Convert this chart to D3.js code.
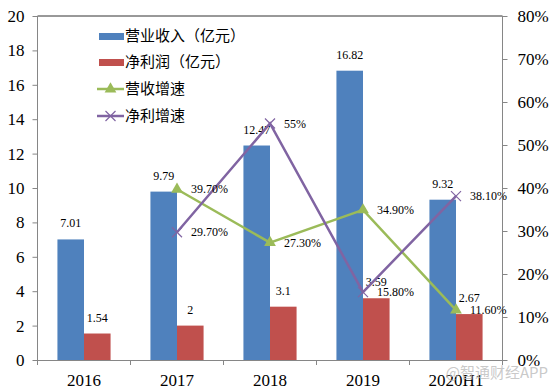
<!DOCTYPE html>
<html><head><meta charset="utf-8">
<script src="https://cdn.jsdelivr.net/npm/d3@7"></script>
<style>body{margin:0;background:#fff}svg{display:block}
.sf{font-family:"Liberation Serif","Times New Roman","DejaVu Serif",serif}
</style>
</head><body>
<script>
const categories = ["2016","2017","2018","2019","2020H1"];
const revenue = [7.01, 9.79, 12.47, 16.82, 9.32];
const profit = [1.54, 2, 3.1, 3.59, 2.67];
const revGrowth = [null, 39.7, 27.3, 34.9, 11.6];
const profGrowth = [null, 29.7, 55, 15.8, 38.1];
const revLabels = ["7.01","9.79","12.47","16.82","9.32"];
const profLabels = ["1.54","2","3.1","3.59","2.67"];
const revGrowthLabels = [null,"39.70%","27.30%","34.90%","11.60%"];
const profGrowthLabels = [null,"29.70%","55%","15.80%","38.10%"];
const leftTicks = [0,2,4,6,8,10,12,14,16,18,20];
const rightTicks = [0,10,20,30,40,50,60,70,80];
const legendNames = ["营业收入（亿元）","净利润（亿元）","营收增速","净利增速"];

const W=554,H=389;
const L=37.5,R=502.5,T=16,B=360;
const C={blue:"#4F81BD",red:"#C0504D",green:"#9BBB59",purple:"#8064A2",axis:"#868686"};

const svg=d3.select("body").append("svg").attr("width",W).attr("height",H);
const x=d3.scaleBand().domain(categories).range([L,R]);
const xs=d3.scaleBand().domain(["rev","prof"]).range([0,x.bandwidth()]).paddingOuter(0.75).paddingInner(0);
const y=d3.scaleLinear().domain([0,20]).range([B,T]);
const y2=d3.scaleLinear().domain([0,80]).range([B,T]);

svg.append("line").attr("x1",L).attr("x2",R).attr("y1",T).attr("y2",T).attr("stroke","#333").attr("stroke-width",1);

const gl=svg.append("g").attr("transform",`translate(${L},0)`)
  .call(d3.axisLeft(y).tickValues(leftTicks).tickSize(5).tickPadding(8));
const gr=svg.append("g").attr("transform",`translate(${R},0)`)
  .call(d3.axisRight(y2).tickValues(rightTicks).tickSize(5).tickPadding(10).tickFormat(d=>d+"%"));
const gb=svg.append("g").attr("transform",`translate(0,${B})`)
  .call(d3.axisBottom(x).tickSize(0).tickPadding(14));
[gl,gr,gb].forEach(g=>{
  g.attr("font-family",null).attr("font-size",null);
  g.selectAll("path,line").attr("stroke",C.axis);
  g.selectAll("text").attr("class","sf").style("font-size","17px").attr("fill","#000");
});
gr.select("path.domain").attr("d",`M0,${T}V${B}`);
gl.select("path.domain").attr("d",`M0,${T}V${B}`);
gb.selectAll(".bt").data(d3.range(categories.length+1)).enter().append("line")
  .attr("x1",i=>L+i*x.step()).attr("x2",i=>L+i*x.step()).attr("y1",0).attr("y2",5).attr("stroke",C.axis);

const g=svg.append("g");
categories.forEach((c,i)=>{
  const x0=x(c);
  g.append("rect").attr("x",x0+xs("rev")).attr("width",xs.bandwidth()).attr("y",y(revenue[i])).attr("height",B-y(revenue[i])).attr("fill",C.blue);
  g.append("rect").attr("x",x0+xs("prof")).attr("width",xs.bandwidth()).attr("y",y(profit[i])).attr("height",B-y(profit[i])).attr("fill",C.red);
  g.append("text").attr("class","sf").attr("x",x0+xs("rev")+xs.bandwidth()/2).attr("y",y(revenue[i])-12).attr("text-anchor","middle")
    .style("font-size","12px").text(revLabels[i]);
  g.append("text").attr("class","sf").attr("x",x0+xs("prof")+xs.bandwidth()/2).attr("y",y(profit[i])-12).attr("text-anchor","middle")
    .style("font-size","12px").text(profLabels[i]);
});

const cx=c=>x(c)+x.bandwidth()/2;
function drawLine(vals,color){
  const pts=categories.map((c,i)=>[c,vals[i]]).filter(d=>d[1]!=null);
  svg.append("path").attr("d",d3.line().x(d=>cx(d[0])).y(d=>y2(d[1]))(pts))
    .attr("fill","none").attr("stroke",color).attr("stroke-width",2.5);
  return pts;
}
const gp=drawLine(revGrowth,C.green);
svg.selectAll(".tri").data(gp).enter().append("path")
  .attr("transform",d=>`translate(${cx(d[0])},${y2(d[1])})`)
  .attr("d",d3.symbol(d3.symbolTriangle,60)).attr("fill",C.green);
const pp=drawLine(profGrowth,C.purple);
svg.selectAll(".xm").data(pp).enter().append("path")
  .attr("transform",d=>`translate(${cx(d[0])},${y2(d[1])})`)
  .attr("d","M-5,-5L5,5M-5,5L5,-5").attr("stroke",C.purple).attr("stroke-width",1.2).attr("fill","none");

categories.forEach((c,i)=>{
  if(revGrowthLabels[i]) svg.append("text").attr("class","sf").attr("x",cx(c)+14).attr("y",y2(revGrowth[i])).attr("dy","0.35em")
    .style("font-size","12px").text(revGrowthLabels[i]);
  if(profGrowthLabels[i]) svg.append("text").attr("class","sf").attr("x",cx(c)+14).attr("y",y2(profGrowth[i])).attr("dy","0.35em")
    .style("font-size","12px").text(profGrowthLabels[i]);
});

const lg=svg.append("g");
const ly=[36,62,89,116];
legendNames.forEach((n,i)=>{
  const yy=ly[i];
  if(i<2){
    lg.append("rect").attr("x",99).attr("y",yy-3).attr("width",25).attr("height",7).attr("fill",i==0?C.blue:C.red);
  } else {
    const col=i==2?C.green:C.purple;
    lg.append("line").attr("x1",97).attr("x2",124).attr("y1",yy).attr("y2",yy).attr("stroke",col).attr("stroke-width",2.5);
    if(i==2) lg.append("path").attr("transform",`translate(110.5,${yy})`).attr("d",d3.symbol(d3.symbolTriangle,60)).attr("fill",col);
    else lg.append("path").attr("transform",`translate(110.5,${yy})`).attr("d","M-5,-5L5,5M-5,5L5,-5").attr("stroke",col).attr("stroke-width",1.2);
  }
  lg.append("text").attr("x",125).attr("y",yy).attr("dy","0.35em").style("font-family","'Noto Sans CJK SC'").style("font-size","15px").text(n);
});

svg.append("text").attr("x",548).attr("y",378).attr("text-anchor","end").style("font-family","'Noto Sans CJK SC'")
  .style("font-size","15px").attr("fill","#bbb").attr("fill-opacity",0.8).text("@智通财经APP");
</script>
</body></html>
